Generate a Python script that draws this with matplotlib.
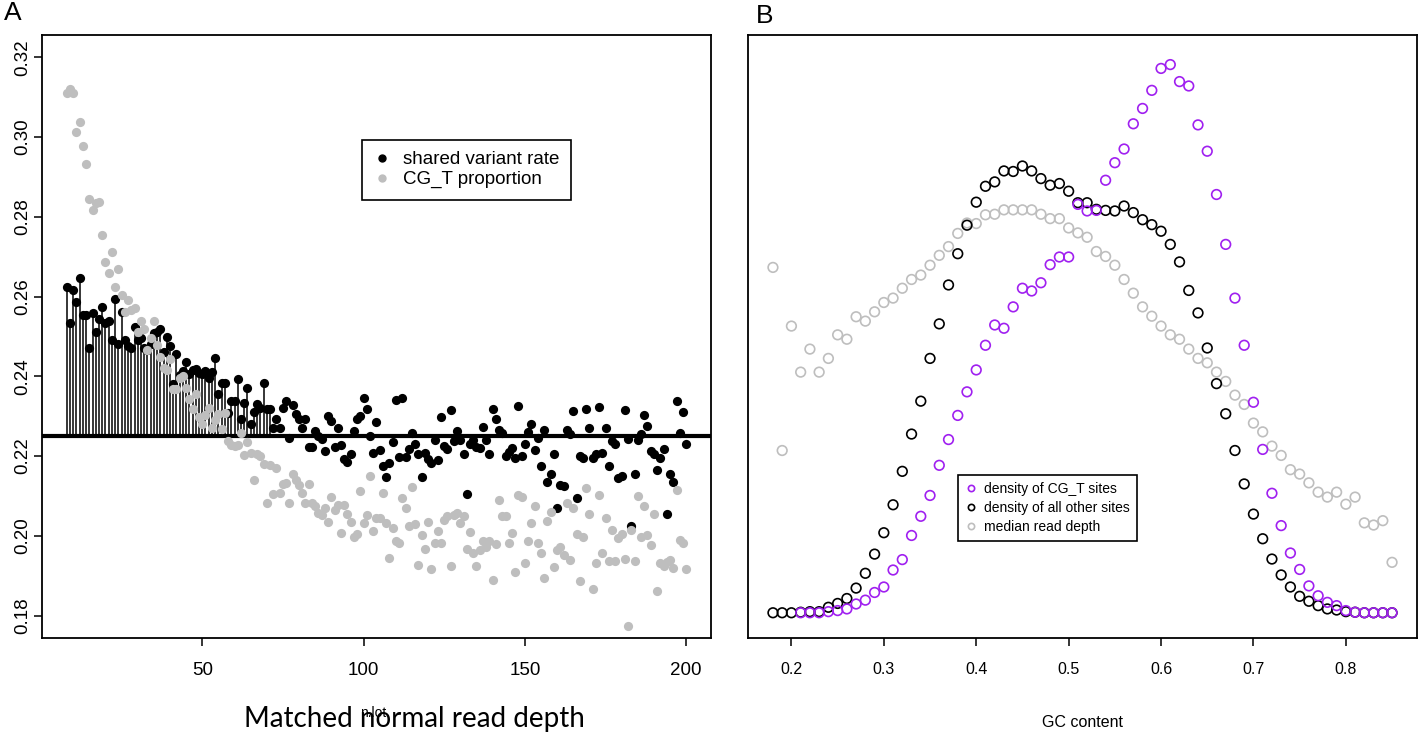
import numpy as np
import matplotlib
matplotlib.use('Agg')
import matplotlib.pyplot as plt
from matplotlib.lines import Line2D

plt.rcParams['font.family'] = ['Liberation Sans', 'DejaVu Sans']

# ---------------- Panel A data ----------------
# one value per matched normal depth, starting at depth 8
shared_rate = [
    0.2624, 0.2535, 0.2616, 0.2586, 0.2646, 0.2553, 0.2553, 0.2472, 0.2558, 0.2510,
    0.2545, 0.2573, 0.2533, 0.2540, 0.2492, 0.2593, 0.2482, 0.2561, 0.2490, 0.2477,
    0.2470, 0.2525, 0.2490, 0.2495, 0.2470, 0.2465, 0.2480, 0.2508, 0.2510, 0.2518,
    0.2460, 0.2498, 0.2477, 0.2382, 0.2457, 0.2404, 0.2414, 0.2437, 0.2407, 0.2417,
    0.2419, 0.2409, 0.2405, 0.2414, 0.2397, 0.2412, 0.2445, 0.2356, 0.2384, 0.2384,
    0.2308, 0.2339, 0.2339, 0.2394, 0.2293, 0.2334, 0.2371, 0.2281, 0.2310, 0.2331,
    0.2321, 0.2384, 0.2318, 0.2318,
    0.2271, 0.2293, 0.2271, 0.2321, 0.2339, 0.2245, 0.2329, 0.2306, 0.2293, 0.2271,
    0.2293, 0.2223, 0.2223, 0.2263, 0.2250, 0.2243, 0.2213, 0.2301, 0.2288, 0.2223,
    0.2271, 0.2228, 0.2192, 0.2185, 0.2205, 0.2263, 0.2293, 0.2301, 0.2346, 0.2318,
    0.2250,
    0.2208, 0.2286, 0.2215, 0.2175, 0.2147, 0.2182, 0.2235, 0.2341, 0.2197, 0.2346,
    0.2197, 0.2218, 0.2258, 0.2230, 0.2205, 0.2147, 0.2208, 0.2192, 0.2182, 0.2240,
    0.2190,
    0.2298, 0.2225, 0.2218, 0.2316, 0.2238, 0.2263, 0.2240, 0.2205, 0.2104, 0.2230,
    0.2240,
    0.2223, 0.2220, 0.2273, 0.2240, 0.2205, 0.2318, 0.2293, 0.2266, 0.2258, 0.2200,
    0.2210,
    0.2220, 0.2195, 0.2326, 0.2200, 0.2230, 0.2261, 0.2281, 0.2215, 0.2245, 0.2175,
    0.2265,
    0.2134, 0.2155, 0.2205, 0.2071, 0.2127, 0.2124, 0.2266, 0.2255, 0.2313, 0.2094,
    0.2200,
    0.2195, 0.2318, 0.2271, 0.2195, 0.2205, 0.2324, 0.2208, 0.2271, 0.2175, 0.2238,
    0.2230,
    0.2145, 0.2150, 0.2316, 0.2243, 0.2025, 0.2155, 0.2240, 0.2255, 0.2303, 0.2276,
    0.2213, 0.2205, 0.2165, 0.2195, 0.2218, 0.2054, 0.2155, 0.2134, 0.2339, 0.2258,
    0.2311, 0.2230,
]

cgt_prop = [
    0.3110, 0.3120, 0.3110, 0.3013, 0.3038, 0.2977, 0.2933, 0.2845, 0.2816, 0.2835,
    0.2838, 0.2755, 0.2687, 0.2660, 0.2711, 0.2623, 0.2670, 0.2603, 0.2561, 0.2591,
    0.2566, 0.2571, 0.2511, 0.2538, 0.2520, 0.2466, 0.2496, 0.2539, 0.2479, 0.2448,
    0.2420, 0.2416, 0.2444, 0.2368, 0.2368, 0.2397, 0.2402, 0.2372, 0.2343, 0.2319,
    0.2356, 0.2297, 0.2281, 0.2303, 0.2320, 0.2271, 0.2290, 0.2305, 0.2267, 0.2307,
    0.2238, 0.2229, 0.2225, 0.2228, 0.2257, 0.2204, 0.2236, 0.2208, 0.2141, 0.2206,
    0.2200, 0.2179, 0.2082, 0.2177, 0.2105, 0.2169, 0.2107, 0.2129, 0.2133, 0.2082,
    0.2155, 0.2139, 0.2127, 0.2107, 0.2082, 0.2130, 0.2082, 0.2074, 0.2057, 0.2053,
    0.2070, 0.2036, 0.2097, 0.2066, 0.2078, 0.2008, 0.2078, 0.2055, 0.2036, 0.1998,
    0.2004, 0.2112, 0.2032, 0.2053, 0.2151, 0.2011, 0.2044, 0.2044, 0.2107, 0.2032,
    0.1944, 0.2020, 0.1986, 0.1981, 0.2095, 0.2071, 0.2024, 0.2122, 0.2029, 0.1927,
    0.2003, 0.1968, 0.2036, 0.1916, 0.1981, 0.2011, 0.1981, 0.2040, 0.2051, 0.1924,
    0.2053, 0.2057, 0.2032, 0.2049, 0.1968, 0.2009, 0.1958, 0.1925, 0.1965, 0.1987,
    0.1973, 0.1986, 0.1889, 0.1979, 0.2089, 0.2049, 0.2051, 0.1981, 0.2007, 0.1910,
    0.2103, 0.2097, 0.1931, 0.1987, 0.2032, 0.2074, 0.1981, 0.1956, 0.1895, 0.2038,
    0.2060, 0.1923, 0.1965, 0.1971, 0.1952, 0.2082, 0.1939, 0.2070, 0.2004, 0.1887,
    0.1998, 0.2120, 0.2055, 0.1868, 0.1933, 0.2103, 0.1956, 0.2044, 0.1937, 0.2015,
    0.1937, 0.1994, 0.2004, 0.1942, 0.1774, 0.2015, 0.1937, 0.2099, 0.1996, 0.2076,
    0.2003, 0.1976, 0.2055, 0.1861, 0.1931, 0.1925, 0.1935, 0.1939, 0.1920, 0.2116,
    0.1990, 0.1981, 0.1918,
]

first_depth = 8
baseline = 0.225        # horizontal reference line
stem_last_depth = 71    # stems drawn for the low-depth part only

# ---------------- Panel B data ----------------
# values are scaled to the CG_T density maximum (y axis is not labelled)
gc_start_all = 0.18
gc_start_cgt = 0.21
cgt_density = [
    0.000, 0.000, 0.000, 0.002, 0.004, 0.007, 0.016, 0.023, 0.037, 0.047,
    0.078, 0.097, 0.141, 0.176, 0.214, 0.269, 0.316, 0.360, 0.403, 0.443,
    0.488, 0.525, 0.519, 0.558, 0.592, 0.587, 0.602, 0.635, 0.649, 0.649,
    0.745, 0.733, 0.734, 0.789, 0.821, 0.846, 0.892, 0.920, 0.953, 0.993,
    1.000, 0.969, 0.961, 0.890, 0.842, 0.763, 0.672, 0.574, 0.488, 0.384,
    0.298, 0.218, 0.159, 0.109, 0.079, 0.049, 0.031, 0.019, 0.013, 0.004,
    0.001, 0.000, 0.000, 0.000, 0.000,
]
other_density = [
    0.000, 0.000, 0.000, 0.001, 0.002, 0.002, 0.010, 0.017, 0.026, 0.045,
    0.072, 0.107, 0.146, 0.197, 0.258, 0.326, 0.386, 0.464, 0.527, 0.598,
    0.655, 0.707, 0.749, 0.778, 0.786, 0.806, 0.805, 0.815, 0.806, 0.792,
    0.780, 0.783, 0.769, 0.748, 0.748, 0.736, 0.734, 0.733, 0.742, 0.730,
    0.717, 0.708, 0.696, 0.672, 0.640, 0.588, 0.547, 0.483, 0.418, 0.363,
    0.296, 0.235, 0.180, 0.135, 0.098, 0.069, 0.047, 0.030, 0.021, 0.013,
    0.007, 0.005, 0.002, 0.001, 0.000, 0.000, 0.000, 0.000,
]
median_depth = [
    0.630, 0.296, 0.523, 0.439, 0.481, 0.439, 0.464, 0.507, 0.499, 0.540,
    0.532, 0.549, 0.566, 0.574, 0.592, 0.608, 0.616, 0.634, 0.652, 0.668,
    0.692, 0.711, 0.710, 0.726, 0.727, 0.735, 0.735, 0.735, 0.735, 0.727,
    0.719, 0.719, 0.702, 0.693, 0.685, 0.659, 0.650, 0.634, 0.608, 0.583,
    0.558, 0.541, 0.523, 0.507, 0.499, 0.481, 0.464, 0.456, 0.439, 0.422,
    0.397, 0.380, 0.346, 0.330, 0.304, 0.287, 0.261, 0.253, 0.237, 0.220,
    0.211, 0.220, 0.198, 0.211, 0.164, 0.160, 0.168, 0.092,
]

PURPLE = '#A020F0'
GREY = '#BEBEBE'

fig = plt.figure(figsize=(14.18, 7.35), dpi=100)

# ================= A =================
axA = fig.add_axes([0.0296, 0.132, 0.4718, 0.8204])
depth_sv = np.arange(first_depth, first_depth + len(shared_rate))
depth_cg = np.arange(first_depth, first_depth + len(cgt_prop))
sv = np.array(shared_rate)

stem = depth_sv <= stem_last_depth
axA.vlines(depth_sv[stem], baseline, sv[stem], color='black', lw=1.1, zorder=2)
axA.scatter(depth_sv, sv, s=44, c='black', linewidths=0, zorder=3)
axA.axhline(baseline, color='black', lw=3, zorder=4)
axA.scatter(depth_cg, cgt_prop, s=44, c=GREY, linewidths=0, zorder=5)

axA.set_xlim(0.32, 207.68)
axA.set_ylim(0.1744, 0.3256)
axA.set_xticks([50, 100, 150, 200])
yt = [0.18, 0.20, 0.22, 0.24, 0.26, 0.28, 0.30, 0.32]
axA.set_yticks(yt)
axA.set_yticklabels([f'{v:.2f}' for v in yt], rotation=90, va='center')
axA.tick_params(direction='out', length=6, width=1.1, labelsize=13.5)
axA.tick_params(axis='x', pad=11)
axA.tick_params(axis='y', pad=2)
for sp in axA.spines.values():
    sp.set_linewidth(1.3)

hA = [Line2D([], [], ls='none', marker='o', ms=5, mfc='black', mec='black'),
      Line2D([], [], ls='none', marker='o', ms=5, mfc=GREY, mec=GREY)]
legA = axA.legend(hA, ['shared variant rate', 'CG_T proportion'], loc='upper left',
                  bbox_to_anchor=(0.478, 0.826), borderaxespad=0, fontsize=13.5,
                  fancybox=False, framealpha=1, edgecolor='black', handlelength=1.0,
                  handletextpad=0.6, labelspacing=0.15, borderpad=0.6)
legA.get_frame().set_linewidth(1.2)

fig.text(0.009, 0.982, 'A', fontsize=19, ha='center', va='center')
fig.text(0.263, 0.030, 'n.lot', fontsize=10, ha='center', va='center')
fig.text(0.292, 0.022, 'Matched normal read depth', fontsize=20, ha='center',
         va='center', family='Lato')

# ================= B =================
axB = fig.add_axes([0.5275, 0.132, 0.4718, 0.8204])
gc_all = np.round(gc_start_all + 0.01 * np.arange(len(other_density)), 2)
gc_cgt = np.round(gc_start_cgt + 0.01 * np.arange(len(cgt_density)), 2)

axB.scatter(gc_all, median_depth, s=48, facecolors='none', edgecolors=GREY, linewidths=1.2, zorder=2)
axB.scatter(gc_all, other_density, s=48, facecolors='none', edgecolors='black', linewidths=1.2, zorder=3)
axB.scatter(gc_cgt, cgt_density, s=48, facecolors='none', edgecolors=PURPLE, linewidths=1.2, zorder=4)

axB.set_xlim(0.153, 0.877)
axB.set_ylim(-0.046, 1.054)
axB.set_xticks([0.2, 0.3, 0.4, 0.5, 0.6, 0.7, 0.8])
axB.set_xticklabels(['0.2', '0.3', '0.4', '0.5', '0.6', '0.7', '0.8'])
axB.set_yticks([])
axB.tick_params(direction='out', length=6, width=1.1, labelsize=11.5, pad=11)
for sp in axB.spines.values():
    sp.set_linewidth(1.3)
axB.set_xlabel('GC content', fontsize=11.5, labelpad=28)

hB = [Line2D([], [], ls='none', marker='o', ms=4.5, mfc='none', mec=c, mew=1.2)
      for c in (PURPLE, 'black', GREY)]
legB = axB.legend(hB, ['density of CG_T sites', 'density of all other sites', 'median read depth'],
                  loc='upper left', bbox_to_anchor=(0.314, 0.270), borderaxespad=0,
                  fontsize=10, fancybox=False, framealpha=1, edgecolor='black',
                  handlelength=0.8, handletextpad=0.6, labelspacing=0.35, borderpad=0.5)
legB.get_frame().set_linewidth(1.2)

fig.text(0.5395, 0.978, 'B', fontsize=19, ha='center', va='center')

fig.savefig('out.png', dpi=100)
